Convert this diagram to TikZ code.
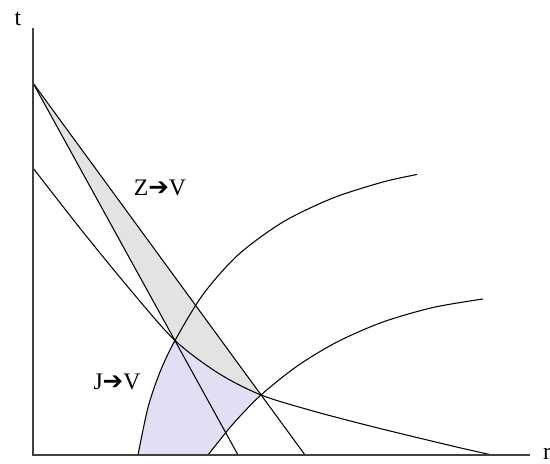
\documentclass[tikz,border=0pt]{standalone}
\usepackage{fontspec}
\setmainfont{Liberation Serif}
\newfontfamily\arrowfont{DejaVu Sans}
\usepackage{xcolor}
\usepackage{tikz}

\definecolor{zonegray}{RGB}{227,227,227}
\definecolor{zonelilac}{RGB}{226,222,243}

\newcommand{\goesto}{{\arrowfont\fontsize{14}{15}\selectfont\char"2794}}
\newcommand{\fallcurve}{plot[smooth] coordinates {(0,5.74) (1.0,4.46) (2.0,3.24) (2.84,2.29) (3.7,1.64) (4.56,1.20) (5.6,0.88) (6.7,0.59) (7.8,0.32) (8.6,0.13) (9.18,0)}}
\newcommand{\highcurve}{plot[smooth] coordinates {(2.10,0) (2.30,0.95) (2.54,1.66) (2.84,2.29) (3.40,3.21) (4.10,4.00) (5.00,4.66) (6.00,5.14) (7.00,5.46) (7.68,5.61)}}
\newcommand{\lowcurve}{plot[smooth] coordinates {(3.50,0) (4.00,0.62) (4.56,1.20) (5.30,1.79) (6.10,2.27) (7.00,2.66) (8.00,2.95) (9.00,3.12)}}

\begin{document}
\begin{tikzpicture}[
    axis/.style={draw=black!75, line width=0.8pt},
    curve/.style={draw=black, line width=0.6pt},
    lbl/.style={font=\fontsize{13.5}{15}\selectfont, inner sep=0pt}
]
    \useasboundingbox (-0.66,-0.18) rectangle (10.34,9.1);

    \coordinate (O) at (0,0);
    \coordinate (tend) at (0,8.54);
    \coordinate (rend) at (9.94,0);
    \coordinate (apex) at (0,7.44);
    \coordinate (jfoot) at (4.10,0);
    \coordinate (zfoot) at (5.44,0);

    \begin{scope}
        \clip (apex) -- (jfoot) -- (zfoot) -- cycle;
        \fill[zonegray] \fallcurve -- (10,0) -- (10,9) -- (0,9) -- cycle;
    \end{scope}
    \begin{scope}
        \clip \fallcurve -- (O) -- cycle;
        \clip \highcurve -- (10,5.61) -- (10,0) -- cycle;
        \fill[zonelilac] \lowcurve -- (9,9) -- (0,9) -- (O) -- cycle;
    \end{scope}

    \draw[curve] \fallcurve;
    \draw[curve] \highcurve;
    \draw[curve] \lowcurve;
    \draw[curve] (apex) -- (jfoot);
    \draw[curve] (apex) -- (zfoot);

    \draw[axis] (tend) -- (O) -- (rend);

    \node[lbl] (tlabel) at (-0.30,8.72) {t};
    \node[lbl] (rlabel) at (10.28,0.02) {r};
    \node[lbl] (zv) at (2.54,5.34) {Z\goesto V};
    \node[lbl] (jv) at (1.68,1.46) {J\goesto V};
\end{tikzpicture}
\end{document}
